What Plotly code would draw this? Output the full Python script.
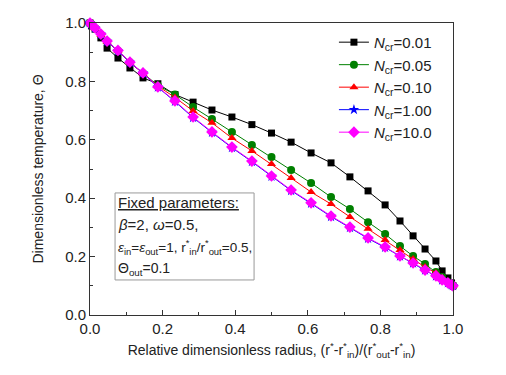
import plotly.graph_objects as go

# relative dimensionless radius (collocation points)
radius = [0.0, 0.004, 0.014, 0.030, 0.047, 0.077, 0.110, 0.146, 0.187, 0.234,
          0.284, 0.336, 0.391, 0.446, 0.500, 0.554, 0.609, 0.664, 0.716, 0.766,
          0.813, 0.854, 0.890, 0.923, 0.953, 0.970, 0.986, 0.996, 1.0]

theta_001 = [1.0, 0.990, 0.979, 0.949, 0.914, 0.880, 0.846, 0.812, 0.792, 0.755,
             0.729, 0.702, 0.678, 0.652, 0.623, 0.592, 0.555, 0.521, 0.473, 0.425,
             0.377, 0.322, 0.271, 0.226, 0.185, 0.151, 0.127, 0.110, 0.100]

theta_005 = [1.0, 0.995, 0.982, 0.960, 0.937, 0.905, 0.866, 0.828, 0.786, 0.755,
             0.712, 0.671, 0.627, 0.582, 0.541, 0.497, 0.452, 0.404, 0.363, 0.318,
             0.277, 0.236, 0.202, 0.175, 0.147, 0.130, 0.113, 0.104, 0.100]

theta_010 = [1.0, 0.995, 0.982, 0.960, 0.937, 0.905, 0.865, 0.827, 0.784, 0.745,
             0.699, 0.658, 0.606, 0.562, 0.517, 0.469, 0.421, 0.380, 0.336, 0.295,
             0.257, 0.223, 0.192, 0.164, 0.144, 0.127, 0.113, 0.104, 0.100]

theta_100 = [1.0, 0.994, 0.982, 0.961, 0.937, 0.905, 0.865, 0.828, 0.780, 0.731,
             0.676, 0.625, 0.573, 0.525, 0.474, 0.426, 0.382, 0.337, 0.299, 0.262,
             0.231, 0.201, 0.177, 0.153, 0.133, 0.119, 0.110, 0.103, 0.100]

theta_1000 = [1.0, 0.994, 0.983, 0.962, 0.938, 0.906, 0.866, 0.829, 0.781, 0.733,
              0.678, 0.627, 0.575, 0.527, 0.476, 0.428, 0.384, 0.339, 0.301, 0.264,
              0.233, 0.202, 0.178, 0.154, 0.134, 0.120, 0.110, 0.103, 0.100]

series = [
    ("0.01", theta_001, "black", "square", 7),
    ("0.05", theta_005, "green", "circle", 8),
    ("0.10", theta_010, "red", "triangle-up", 8),
    ("1.00", theta_100, "blue", "star", 8),
    ("10.0", theta_1000, "magenta", "diamond", 9),
]

box_lines = [
    "<u>Fixed parameters:</u>",
    "<i>β</i>=2, <i>ω</i>=0.5,",
    "<i>ε</i><sub>in</sub>=<i>ε</i><sub>out</sub>=1, r<sup>*</sup><sub>in</sub>/r<sup>*</sup><sub>out</sub>=0.5,",
    "Θ<sub>out</sub>=0.1",
]
box_sizes = [15, 15, 13.5, 14]

font = "Liberation Sans, Arial, sans-serif"

fig = go.Figure()
for label, values, color, symbol, size in series:
    fig.add_trace(go.Scatter(
        x=radius, y=values, mode="lines+markers",
        name=f"<i>N</i><sub>cr</sub>=" + label,
        line=dict(color=color, width=1),
        marker=dict(symbol=symbol, size=size, color=color),
        cliponaxis=False))

axis_style = dict(
    range=[0, 1], dtick=0.2, tickformat=".1f",
    ticks="inside", ticklen=5, tickcolor="#333",
    minor=dict(ticks="inside", ticklen=3, dtick=0.1, tickcolor="#333"),
    showline=True, linecolor="#333", linewidth=1, mirror=True,
    showgrid=False, zeroline=False, automargin=False,
    tickfont=dict(size=15, color="#222"))

fig.update_xaxes(
    **axis_style,
    title=dict(text="Relative dimensionless radius, (r<sup>*</sup>-r<sup>*</sup><sub>in</sub>)/(r<sup>*</sup><sub>out</sub>-r<sup>*</sup><sub>in</sub>)",
               font=dict(size=14, color="#222"), standoff=9))
fig.update_yaxes(
    **axis_style,
    title=dict(text="Dimensionless temperature, Θ",
               font=dict(size=14, color="#222"), standoff=18))

# parameter box: frame plus one text per line
fig.add_shape(type="rect", xref="paper", yref="paper",
              x0=0.069, x1=0.452, y0=0.12, y1=0.418,
              line=dict(color="#999", width=1), fillcolor="white", layer="below")
for i, line in enumerate(box_lines):
    fig.add_annotation(
        xref="paper", yref="paper", x=0.072, y=0.384 - i * 0.0755,
        xanchor="left", yanchor="middle", showarrow=False, align="left",
        text=line, font=dict(size=box_sizes[i], color="#222", family=font))

# page body adds an 8px offset, so the figure is sized to fit inside it
fig.update_layout(
    width=498, height=367,
    margin=dict(l=82, r=53, t=15, b=60),
    paper_bgcolor="white", plot_bgcolor="white",
    font=dict(family=font, color="#222"),
    legend=dict(x=0.672, y=0.99, xanchor="left", yanchor="top",
                bgcolor="rgba(0,0,0,0)", font=dict(size=15)),
)

fig.write_html("out.html")
